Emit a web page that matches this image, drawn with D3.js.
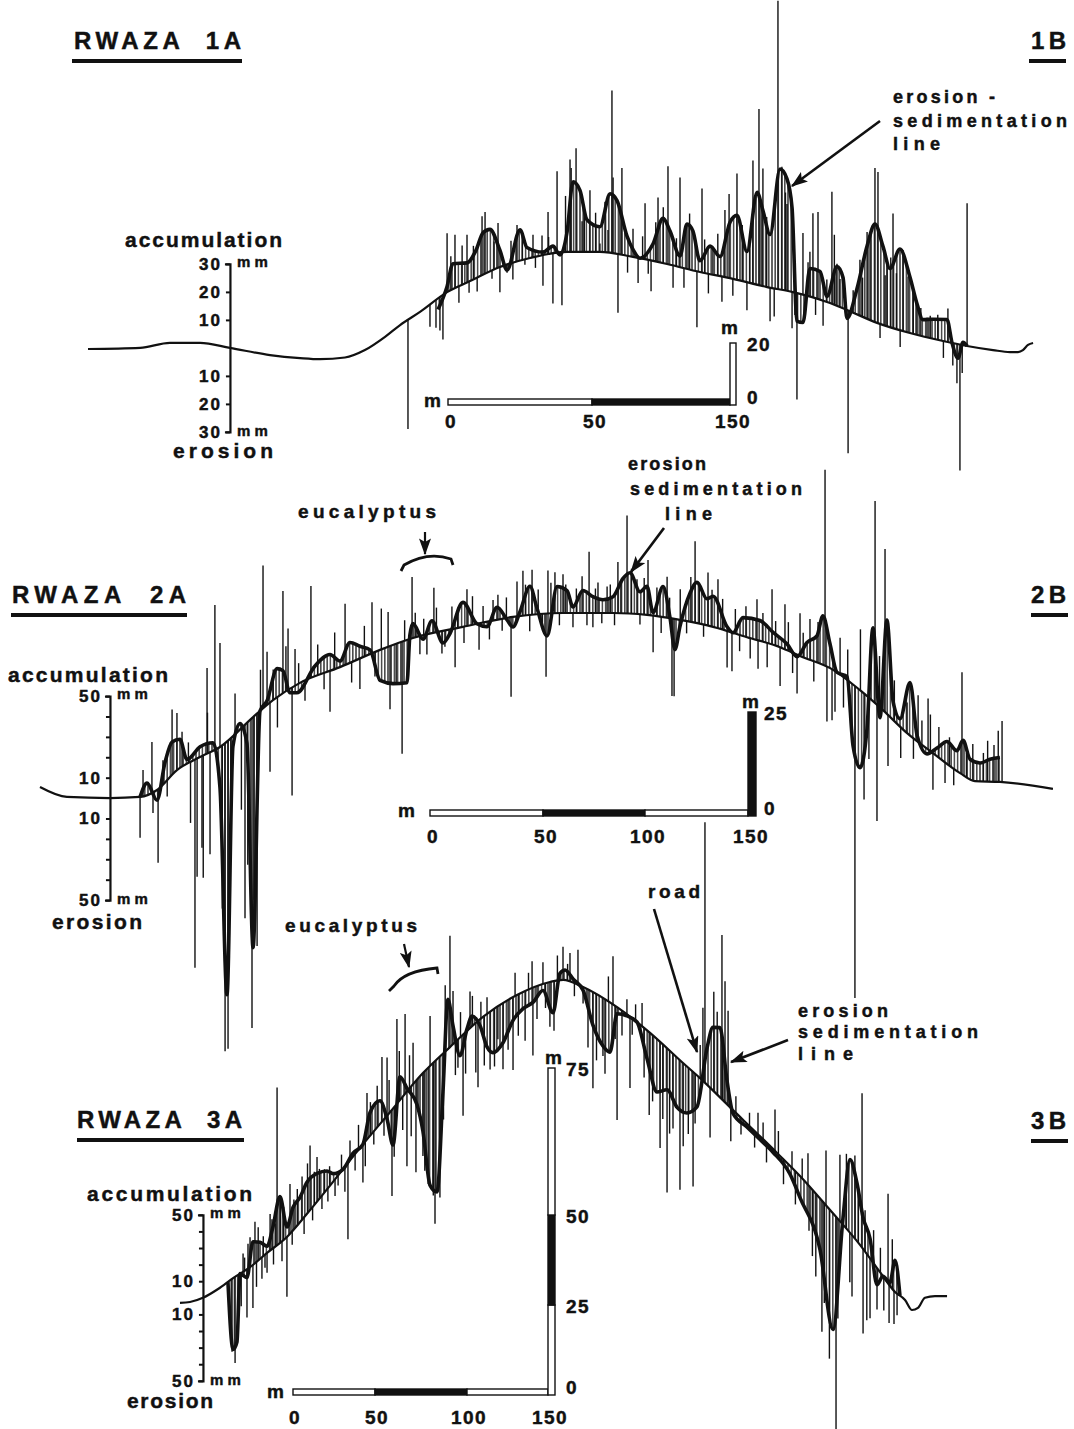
<!DOCTYPE html>
<html>
<head>
<meta charset="utf-8">
<script src="https://cdn.jsdelivr.net/npm/d3@7"></script>
<style>
  body { margin: 0; background: #fff; }
  svg text { font-family: "Liberation Sans", Arial, sans-serif; font-weight: bold; fill: #111; stroke: #111; stroke-width: 0.45px; white-space: pre; }
</style>
</head>
<body>
<svg id="fig" width="1074" height="1429"></svg>
<script>
// *******************
// Data: distance along profile (m), elevation (m), erosion(-)/accumulation(+) in mm
// *******************

// RWAZA 1
const terrain1 = [[0,4.0],[27.7,4.4],[43.6,6.2],[59.6,6.2],[75.5,4.4],[96.8,1.8],[112.8,0.7],[123.4,0.3],[136.7,0.9],[147.3,3.6],[158,8.4],[166,12.7],[176.6,17.5],[191,24.7],[203.2,28.7],[219.1,33.8],[235.1,37.1],[254.8,39.3],[272.3,39.3],[289.9,37.5],[308,34.9],[325.5,32],[343.1,29.5],[361.2,26.5],[375,24.7],[393.1,21.1],[403.7,18.2],[419.7,13.5],[437.2,9.8],[454.8,6.9],[467.6,5.1],[481.4,3.6],[490.4,2.9],[494.7,2.9],[497.3,3.6],[500,5.5],[502.7,6.2]];
const esLine1 = [[186.2,-4],[191,2],[194.1,9],[201.6,7],[206.4,10],[210.1,15],[213.8,15],[219.1,6],[222.9,-2],[229.8,11],[233.5,4],[242,1],[247.3,2.5],[251.1,-1],[254.8,7],[258,25],[261.7,22],[265.4,11.5],[272.3,9],[277.7,21],[281.4,19],[286.7,7],[290,2.5],[293.6,0],[300.5,6],[305.9,16],[309.6,12],[314.9,4],[318.6,16],[321.8,14],[325.5,4],[330.9,10],[336.2,7],[341.5,20],[345.2,23],[350.5,11],[355.9,33],[359,27],[362.8,19],[368.1,43],[371.8,40],[374.5,30],[377.1,-10],[380.3,-10],[384,10],[389.4,10],[393.1,2],[398.4,14],[401.6,11],[403.7,-3],[409,9],[414.4,26],[418.6,35],[422.9,28],[426.6,21],[431.9,29],[437.2,20],[441,11],[444.1,6],[449.5,7],[456.9,8],[459.6,0],[462.8,-5],[465.4,1],[467.6,0]];
const pins1 = [[170.2,-39],[181.9,-8],[185.1,-10],[187.2,-12],[188.8,-16],[191,21],[195.2,19],[197.3,-6],[201.6,17],[202.7,-4],[209.6,21],[211.2,22],[214.9,-3],[218.1,16],[219.1,-9],[222.9,-3],[228.2,13],[232.4,-2],[236.7,8],[241.5,7],[242,-11],[244.7,15],[247.3,-18],[249.5,29],[252.1,-19],[256.4,33],[259.6,37],[262.8,11],[267,22],[272.3,3],[276.6,8],[278.7,58],[279.3,27],[281.9,-21],[284,31],[289.9,10],[292.6,-9],[296.3,20],[299.5,-11],[303.2,23],[308.5,35],[311.2,-8],[314.9,32],[318.6,16],[323.9,-20],[326.6,30],[332.4,10],[337.2,-9],[338.8,24],[345.2,38],[350.5,-10],[353.7,44],[356.9,63],[359,42],[362.8,-12],[367,103],[369.1,44],[371.8,31],[374.5,-13],[377.1,-38],[380.3,22],[384,16],[385.6,30],[388.3,31],[391,-9],[395.7,40],[398.4,15],[404.3,-51],[410.6,20],[414.4,31],[418.6,55],[420.2,54],[421.3,-5],[425,22],[428.2,41],[433.5,29],[436.2,20],[441,11],[446.3,7],[457.4,12],[462.2,-14],[463.8,-45],[467.6,51],
  [193,12],[199,14],[205,12],[207,-5],[216,10],[225,8],[226,-6],[231,9],[238,-4],[245,6],[254,20],[257,30],[264,16],[270,14],[275,18],[283,15],[287,-6],[295,8],[298,-5],[302,14],[306,20],[313,10],[317,-7],[320,20],[328,12],[330,-7],[335,15],[341,30],[343,-6],[348,20],[352,14],[358,30],[361,25],[365,-10],[371,35],[376,-8],[383,12],[387,-6],[393,8],[397,25],[400,10],[407,8],[412,14],[416,30],[424,18],[427,25],[430,20],[432,-6],[439,15],[443,10],[448,8],[452,9],[455,-6],[460,-8],[465,-10]];

// RWAZA 2
const terrain2 = [[0,3.4],[12.7,0.8],[33,0.5],[47.2,0.8],[55.2,2.6],[64.6,7.8],[75.5,11.2],[84.9,13.8],[100.5,21.6],[109.9,26],[122.6,30.5],[141.5,34.6],[160.4,39.1],[175.9,42.2],[199.5,45.1],[223.1,47.7],[246.7,48.7],[270.3,48.7],[286.3,48.2],[301.9,46.9],[317.5,45.1],[333.5,42.4],[349.1,39.8],[358.5,37.5],[374.1,33.9],[386.8,28.6],[397.6,23.4],[409,17.4],[421.2,12.2],[434,7],[441,4.9],[452.8,4.7],[477.8,2.9]];
const esLine2 = [[47.2,0],[50.5,6],[55.2,-5],[59,10],[62.3,16],[66,14],[69.3,2],[75.5,5],[81.6,4],[84.9,-20],[88.2,-124],[91,-5],[94.3,3],[97.6,-10],[100.5,-113],[103.8,0],[107.1,2],[111.8,14],[114.6,11],[117.9,-2],[121.2,-4],[129.7,5],[136.8,8],[141.5,3],[146.2,10],[150.9,6],[155.7,2],[160.4,-15],[166.5,-19],[173.1,-21],[174.5,2],[175.9,7],[180.7,-2],[184.9,6],[190.1,-6],[193.4,-2],[199.5,12],[206.1,0],[210.8,-2.5],[215.6,6],[220.3,-1],[223.1,-5],[226.4,2],[231.1,14],[234.4,3],[239.2,-11],[243.9,13],[248.6,11],[251.4,3],[256.1,11],[260.8,8],[265.6,6.5],[270.3,8],[275,17],[278.3,20],[283,11],[286.3,14],[289.2,1.5],[293.9,15],[297.2,0],[299.5,-15],[301.9,-3],[306.6,14],[309.9,20],[314.6,13],[317.5,15],[324.1,2],[326.9,0],[331.6,9],[339.6,10],[345.8,6],[352.4,3],[357.1,-1],[361.8,8],[366.5,13],[369.3,24],[372.6,12],[375.9,0],[380.7,1.5],[383.5,-30],[386.8,-38],[390.1,-16],[392.9,36],[396.2,-5],[399.5,46],[402.4,9],[405.7,4],[410.4,26],[413.7,3],[418.4,-2.5],[423.1,4],[427.8,11],[432.5,10],[435.4,17],[438.7,10],[443.4,9],[448.1,11],[452.8,12]];
const pins2 = [[47.2,-20],[48.6,13],[52.8,25],[53.3,-10],[55.7,-36],[62.3,32],[64.6,28],[67,17],[73.1,-102],[74.1,-58],[76.4,-45],[78.8,42],[80.2,-50],[82.5,71],[84.9,51],[87.3,-151],[88.7,-151],[96.7,-95],[100,-152],[102.4,-114],[105.2,70],[107.1,26],[108.5,-34],[114.6,50],[116,22],[118.9,-53],[120.3,18],[127.8,45],[136.8,-20],[143.9,30],[150.9,-15],[156.6,25],[164.2,17],[165.1,-31],[170.8,-55],[175.5,30],[179.2,-9],[182.5,-10],[185.8,22],[189.6,-11],[194.3,11],[195.8,-19],[201.4,18],[207.1,-13],[213.7,10],[222.2,-39],[225,17],[227.8,22],[232.1,22],[238.7,-31],[239.6,21],[242.9,20],[246.7,19],[251.4,-7],[255.7,18],[259,30],[260.8,-7],[263.2,15],[267.5,13],[272.6,25],[276.9,48],[281.6,17],[286.8,27],[289.2,-18],[295.8,20],[298.1,-38],[299.1,-38],[309,40],[315.1,26],[319.8,24],[324.1,-18],[326.4,-19],[338.2,20],[338.7,-14],[345.3,27],[349.1,-19],[351.4,22],[357.1,-19],[358.5,21],[363.2,20],[370.3,96],[371.2,-27],[373.6,-25],[377.4,18],[384.4,-153],[388.7,-52],[393.9,99],[394.8,-57],[398.6,80],[414.2,23],[418.9,25],[421.2,-18],[426.9,-10],[434.9,50],[453.8,30],
  [58,12],[60,-8],[70,10],[71,-30],[77,-60],[79,20],[86,-80],[90,-60],[92,20],[95,-40],[98,-70],[101,-90],[104,20],[110,15],[112,-15],[117,30],[122,10],[125,-10],[131,15],[134,-8],[139,18],[147,-10],[153,15],[158,-12],[161,20],
  [168,-20],[172,10],[177,12],[181,8],[187,12],[191,-8],[197,10],[200,-8],[204,14],[209,8],[212,-9],[216,12],[218,-6],[220,10],[229,15],[231,-8],[235,12],[237,-6],[241,15],[245,-6],[248,14],[253,12],[258,-6],[262,12],[265,-5],[269,14],[271,-6],[274,15],[279,22],[283,-5],[285,18],[291,14],[293,-8],[297,10],[302,15],[305,-6],[307,22],[311,20],[313,-6],[317,18],[322,15],[328,12],[330,-8],[333,15],[335,-10],[341,14],[343,-12],[347,12],[353,14],[355,-10],[360,12],[365,-10],[367,20],[375,-20],[379,-15],[381,15],[387,30],[391,-30],[396,25],[400,-25],[403,20],[406,-15],[409,15],[412,-10],[416,12],[420,18],[424,15],[429,14],[431,-8],[437,12],[440,18],[445,14],[447,20],[450,18],[452,25]];

// RWAZA 3
const terrain3 = [[0,1.7],[5.9,1.9],[13.5,2.9],[22.4,5.0],[31.2,7.6],[41.2,10.2],[51.2,13.6],[62.9,17.4],[74.7,22.9],[90,30.5],[105.9,38.6],[123.5,47.1],[142.9,56.4],[158.8,62.6],[178.2,69.8],[198.2,75.0],[217.6,78.1],[225.3,78.6],[237.1,76.9],[257.1,72.1],[276.5,66.0],[295.9,58.8],[305.9,55.2],[323.5,48.3],[351.2,37.4],[364.7,31.9],[382.4,23.8],[400,15.5],[411.8,9.0],[420.6,4.3],[426.5,2.4],[430.6,0.0],[434.1,0.5],[438.2,2.9],[444.1,3.3],[451.2,3.3]];
const esLine3 = [[28.2,0],[31.2,-43],[33.5,-40],[35.3,0],[39.4,-5],[42.9,14],[47.1,10],[51.2,4],[54.7,13],[58.8,28],[62.9,6],[66.5,14],[70.6,15],[74.7,19],[80.6,17],[86.5,11],[90,5],[95.9,0],[101.8,2],[107.6,0],[111.8,14],[117.6,14],[121.8,-2],[125.3,-22],[129.4,14],[133.5,2],[139.4,-15],[142.9,-35],[147.1,-72],[151.2,-80],[154.7,-23],[157.6,30],[160.6,11],[164.7,-11],[168.8,1],[171.8,6],[176.5,-4],[180.6,-20],[184.1,-26],[190,-24],[195.9,-14],[201.8,-10],[207.6,-9],[213.5,-4],[219.4,-19],[223.5,4],[226.5,6],[231.2,2],[237.1,-2],[242.9,-20],[248.8,-29],[252.9,-30],[257.1,-4],[262.9,-1],[268.8,0],[274.7,-17],[280.6,-32],[286.5,-25],[292.4,-30],[298.2,-28],[304.1,-19],[310,22],[313.5,38],[317.6,42],[321.8,14],[325.3,-2],[333.5,-2],[341.2,-2],[348.8,-2],[358.8,-5],[364.7,-13],[376.5,-31],[384.1,-70],[390,4],[394.1,44],[398.2,35],[401.8,19],[405.9,12],[410,-10],[413.5,0],[417.6,2],[420.6,19],[423.5,0]];
const pins3 = [[30.6,-44],[32.4,-52],[37.1,11],[39.4,-29],[41.2,18],[42.9,-26],[44.1,25],[48.2,-13],[51.2,-12],[54.1,18],[57.1,95],[62.9,-36],[64.7,30],[71.8,26],[76.5,39],[80.6,27],[83.5,-8],[91.2,-10],[98.8,-46],[107.6,-23],[110,28],[118.8,39],[121.8,35],[124.7,-52],[127.6,51],[132.4,48],[133.5,-45],[137.1,25],[138.8,-55],[142.9,-50],[147.1,30],[150,-98],[152.9,-85],[158.8,67],[160.6,32],[163.5,-17],[166.5,-49],[170.6,22],[175.3,-40],[180.6,10],[182.4,-35],[190,-40],[195.9,-44],[197.1,14],[207.1,16],[207.6,-41],[213.5,13],[217.6,-27],[225.3,20],[229.4,17],[234.1,21],[237.1,-10],[242.9,-58],[248.8,-35],[254.7,29],[257.1,-68],[262.9,9],[264.7,-43],[271.8,14],[282.4,-64],[286.5,-87],[294.1,-78],[301.8,-69],[307.6,44],[308.8,157],[311.8,-30],[318.8,99],[320.6,73],[322.4,57],[340,13],[350,25],[369.4,19],[370,-27],[377.6,-79],[380,33],[385.9,-128],[388.2,40],[395.3,-37],[401.2,93],[401.8,-51],[405.9,-36],[416.5,54],[417.1,-23],[421.8,-13],
  [36,-20],[38,8],[40,15],[45,-15],[46,20],[49,12],[50,-8],[53,22],[55,-10],[56,14],[59,25],[60,-12],[61,20],[66,-8],[67,18],[69,22],[73,-10],[75,30],[78,-8],[79,20],[82,18],[85,14],[87,-8],[88,12],[93,-6],[95,10],[97,-15],[100,12],[103,-10],[105,15],[109,-15],[112,20],[114,-8],[116,25],[120,-10],[123,20],[126,-30],[129,30],[131,-20],[135,20],[136,-30],[140,-20],[144,-60],[146,-70],[149,-80],[155,-40],[156,40],[162,-20],[165,15],[168,-25],[172,18],[174,-30],[177,10],[179,-30],[185,-35],[187,-20],[193,-30],[199,-25],[203,-30],[205,10],[210,-20],[215,-15],[220,-30],[222,15],[228,10],[232,-8],[240,-35],[245,-40],[250,-45],[252,15],[256,-20],[260,-15],[266,-10],[268,10],[273,-30],[276,-50],[278,-40],[284,-45],[288,-50],[290,-45],[296,-50],[299,-40],[303,-30],[306,20],[314,60],[316,50],[319,30],[324,-20],[327,10],[330,-10],[335,8],[338,-10],[343,10],[345,-12],[352,14],[355,-15],[360,10],[362,-20],[366,12],[372,-40],[374,-50],[379,-60],[382,-90],[387,-60],[392,45],[394,-30],[397,50],[399,30],[403,25],[404,-40],[408,20],[410,-25],[412,15],[414,-20],[419,30],[420,-20],[423,10]];

// axis ticks (mm) and scale bars (m)
const mmTicks1 = [-30, -20, -10, 10, 20, 30];
const mmLabels1 = [-30, -20, -10, 10, 20, 30];
const mmTicks2 = [-50, -40, -30, -20, -10, 10, 20, 30, 40, 50];
const mmLabels2 = [-50, -10, 10, 50];
const mmTicks3 = [-50, -40, -30, -20, -10, 10, 20, 30, 40, 50];
const mmLabels3 = [-50, -10, 10, 50];
const lengthTicks1 = [0, 50, 150];
const lengthTicks2 = [0, 50, 100, 150];
const lengthTicks3 = [0, 50, 100, 150];
const heightTicks1 = [0, 20];
const heightTicks2 = [0, 25];
const heightTicks3 = [0, 25, 50, 75];

const INK = "#111";

// layout for each profile (pixels)
const profiles = [
  {
    terrain: terrain1, es: esLine1, pins: pins1,
    xDomain: [0, 500], xRange: [88, 1028], eDomain: [0, 40], eRange: [360, 250], mmPx: 2.8,
    axisAt: 75.5, mmMax: 30, mmTicks: mmTicks1, mmLabels: mmLabels1,
    bar: { ticks: lengthTicks1, range: [448, 592, 730], y: 399, labelY: 428, labelDx: 3, fills: ["#fff", INK], m: [424, 407] },
    vbar: { ticks: heightTicks1, range: [405, 343], x: 730, w: 6, fills: ["#fff"], labelX: 747, m: [721, 334] }
  },
  {
    terrain: terrain2, es: esLine2, pins: pins2,
    xDomain: [0, 500], xRange: [40, 1100], eDomain: [0, 50], eRange: [800, 608], mmPx: 2.04,
    axisAt: 33, mmMax: 50, mmTicks: mmTicks2, mmLabels: mmLabels2,
    bar: { ticks: lengthTicks2, range: [430, 543, 645, 748], y: 810, labelY: 843, labelDx: 3, fills: ["#fff", INK, "#fff"], m: [398, 817] },
    vbar: { ticks: heightTicks2, range: [816, 712], x: 748, w: 8, fills: [INK], labelX: 764, m: [742, 708] }
  },
  {
    terrain: terrain3, es: esLine3, pins: pins3,
    xDomain: [0, 500], xRange: [180, 1030], eDomain: [0, 80], eRange: [1310, 974], mmPx: 1.66,
    axisAt: 13.5, mmMax: 50, mmTicks: mmTicks3, mmLabels: mmLabels3,
    bar: { ticks: lengthTicks3, range: [293, 375, 467, 548], y: 1389, labelY: 1424, labelDx: 2, fills: ["#fff", INK, "#fff"], m: [267, 1398] },
    vbar: { ticks: heightTicks3, range: [1395, 1305, 1215, 1068], x: 548, w: 7, fills: ["#fff", INK, "#fff"], labelX: 566, m: [545, 1064] }
  }
];

const svg = d3.select("#fig");
const defs = svg.append("defs");

// vertical hatching used between ground line and erosion-sedimentation line
defs.append("pattern")
  .attr("id", "hatch")
  .attr("patternUnits", "userSpaceOnUse")
  .attr("width", 3.2).attr("height", 20)
  .append("line")
  .attr("x1", 0.8).attr("x2", 0.8).attr("y1", 0).attr("y2", 20)
  .attr("stroke", INK).attr("stroke-width", 1.2);

defs.append("marker")
  .attr("id", "head")
  .attr("markerUnits", "userSpaceOnUse")
  .attr("viewBox", "0 0 14 10")
  .attr("refX", 13).attr("refY", 5)
  .attr("markerWidth", 17).attr("markerHeight", 12)
  .attr("orient", "auto")
  .append("path").attr("d", "M0,0 L14,5 L0,10 L3,5 z").attr("fill", INK);

function label(x, y, str, size, len, anchor = "start") {
  const t = svg.append("text")
    .attr("x", x).attr("y", y)
    .attr("font-size", size)
    .attr("text-anchor", anchor)
    .text(str);
  if (len) t.attr("textLength", len).attr("lengthAdjust", "spacing");
  return t;
}

// samples the drawn ground line so pins can stand on it
function groundLookup(node) {
  const L = node.getTotalLength();
  const pts = [];
  for (let s = 0; s <= L; s += 1) pts.push(node.getPointAtLength(s));
  const bis = d3.bisector((p) => p.x).left;
  return (px) => {
    const i = Math.max(1, Math.min(pts.length - 1, bis(pts, px)));
    const a = pts[i - 1], b = pts[i];
    const t = b.x === a.x ? 0 : (px - a.x) / (b.x - a.x);
    return a.y + t * (b.y - a.y);
  };
}

function drawProfile(p) {
  const g = svg.append("g");
  const x = d3.scaleLinear().domain(p.xDomain).range(p.xRange);
  const e = d3.scaleLinear().domain(p.eDomain).range(p.eRange);

  const groundLine = d3.line()
    .x((d) => x(d[0]))
    .y((d) => e(d[1]))
    .curve(d3.curveMonotoneX);

  const hatchG = g.append("g");
  const pinG = g.append("g");

  const ground = g.append("path")
    .datum(p.terrain)
    .attr("d", groundLine)
    .attr("fill", "none")
    .attr("stroke", INK)
    .attr("stroke-width", 2.2)
    .attr("stroke-linejoin", "round");

  const base = groundLookup(ground.node());
  const baseY = (d) => base(x(d));
  const topY = (d) => baseY(d[0]) - d[1] * p.mmPx;

  // hatched band between ground and erosion-sedimentation line
  hatchG.append("path")
    .datum(p.es)
    .attr("d", d3.area()
      .x((d) => x(d[0]))
      .y0((d) => baseY(d[0]))
      .y1(topY)
      .curve(d3.curveMonotoneX))
    .attr("fill", "url(#hatch)");

  // individual pins
  pinG.selectAll("line")
    .data(p.pins)
    .join("line")
    .attr("x1", (d) => x(d[0]))
    .attr("x2", (d) => x(d[0]))
    .attr("y1", (d) => baseY(d[0]))
    .attr("y2", topY)
    .attr("stroke", INK)
    .attr("stroke-width", 1.4);

  // bold erosion-sedimentation line
  g.append("path")
    .datum(p.es)
    .attr("d", d3.line().x((d) => x(d[0])).y(topY).curve(d3.curveMonotoneX))
    .attr("fill", "none")
    .attr("stroke", INK)
    .attr("stroke-width", 3.6)
    .attr("stroke-linejoin", "round");

  // mm axis standing on the ground line
  const ax = x(p.axisAt);
  const zero = baseY(p.axisAt);
  const mmScale = d3.scaleLinear()
    .domain([-p.mmMax, p.mmMax])
    .range([zero + p.mmMax * p.mmPx, zero - p.mmMax * p.mmPx]);
  const axisG = g.append("g")
    .attr("transform", `translate(${ax},0)`)
    .call(d3.axisLeft(mmScale)
      .tickValues(p.mmTicks)
      .tickSizeInner(4).tickSizeOuter(5).tickPadding(4)
      .tickFormat((v) => (p.mmLabels.includes(v) ? Math.abs(v) : "")));
  axisG.attr("font-family", null).attr("font-size", null);
  axisG.select(".domain").attr("stroke", INK).attr("stroke-width", 2.2);
  axisG.selectAll(".tick line").attr("stroke", INK).attr("stroke-width", 2);
  axisG.selectAll(".tick text")
    .attr("font-size", 17)
    .attr("letter-spacing", 2)
    .attr("fill", INK);
  label(ax + 7, mmScale(p.mmMax) + 3, "mm", 15, 31);
  label(ax + 7, mmScale(-p.mmMax) + 4, "mm", 15, 31);

  // horizontal scale bar
  const b = p.bar;
  const bx = d3.scaleLinear().domain(b.ticks).range(b.range);
  g.append("g").selectAll("rect")
    .data(d3.pairs(b.ticks))
    .join("rect")
    .attr("x", (d) => bx(d[0]))
    .attr("y", b.y)
    .attr("width", (d) => bx(d[1]) - bx(d[0]))
    .attr("height", 6)
    .attr("fill", (d, i) => b.fills[i])
    .attr("stroke", INK)
    .attr("stroke-width", 1.4);
  g.append("g").selectAll("text")
    .data(b.ticks)
    .join("text")
    .attr("x", (d) => bx(d) + b.labelDx)
    .attr("y", b.labelY)
    .attr("text-anchor", "middle")
    .attr("font-size", 19)
    .attr("letter-spacing", 1.5)
    .text((d) => d);
  label(b.m[0], b.m[1], "m", 19);

  // vertical scale bar
  const v = p.vbar;
  const vy = d3.scaleLinear().domain(v.ticks).range(v.range);
  g.append("g").selectAll("rect")
    .data(d3.pairs(v.ticks))
    .join("rect")
    .attr("x", v.x)
    .attr("y", (d) => vy(d[1]))
    .attr("width", v.w)
    .attr("height", (d) => vy(d[0]) - vy(d[1]))
    .attr("fill", (d, i) => v.fills[i])
    .attr("stroke", INK)
    .attr("stroke-width", 1.4);
  g.append("g").selectAll("text")
    .data(v.ticks)
    .join("text")
    .attr("x", v.labelX)
    .attr("y", (d) => (d === 0 ? vy(d) - 1 : vy(d) + 8))
    .attr("font-size", 19)
    .attr("letter-spacing", 1.5)
    .text((d) => d);
  label(v.m[0], v.m[1], "m", 19);
}

profiles.forEach(drawProfile);

// titles
function title(x, y, str, len, ux, uw) {
  label(x, y, str, 24, len);
  svg.append("rect").attr("x", ux).attr("y", y + 10).attr("width", uw).attr("height", 4).attr("fill", INK);
}
title(74, 49, "RWAZA  1A", 167, 72, 170);
title(1031, 49, "1B", 35, 1029, 37);
title(12, 603, "RWAZA  2A", 174, 11, 176);
title(1031, 603, "2B", 35, 1031, 37);
title(77, 1128, "RWAZA  3A", 165, 77, 167);
title(1031, 1129, "3B", 35, 1031, 37);

// axis captions
label(125, 247, "accumulation", 21, 157);
label(173, 458, "erosion", 21, 100);
label(8, 682, "accumulation", 21, 160);
label(52, 929, "erosion", 21, 90);
label(87, 1201, "accumulation", 21, 165);
label(127, 1408, "erosion", 21, 86);

// annotations
function arrow(x1, y1, x2, y2, w = 2.6) {
  svg.append("line")
    .attr("x1", x1).attr("y1", y1).attr("x2", x2).attr("y2", y2)
    .attr("stroke", INK).attr("stroke-width", w)
    .attr("marker-end", "url(#head)");
}

label(893, 103, "erosion -", 18, 102);
label(893, 127, "sedimentation", 18, 174);
label(893, 150, "line", 18, 47);
arrow(880, 121, 792, 186);

label(628, 470, "erosion", 18, 78);
label(630, 495, "sedimentation", 18, 172);
label(665, 520, "line", 18, 47);
arrow(664, 528, 631, 572);

label(298, 518, "eucalyptus", 19, 138);
arrow(425, 532, 425, 554, 2.2);
svg.append("path")
  .attr("d", "M401,571 L404,565 Q428,551 451,559 L453,565")
  .attr("fill", "none").attr("stroke", INK).attr("stroke-width", 2.8);

label(285, 932, "eucalyptus", 19, 132);
arrow(404, 944, 409, 967, 2.2);
svg.append("path")
  .attr("d", "M389,991 L394,986 Q404,971 437,968 L438,974")
  .attr("fill", "none").attr("stroke", INK).attr("stroke-width", 2.8);

label(648, 898, "road", 19, 52);
arrow(654, 909, 697, 1052);

label(798, 1017, "erosion", 18, 90);
label(798, 1038, "sedimentation", 18, 180);
label(798, 1060, "line", 18, 55);
arrow(788, 1040, 731, 1062);
</script>
</body>
</html>
